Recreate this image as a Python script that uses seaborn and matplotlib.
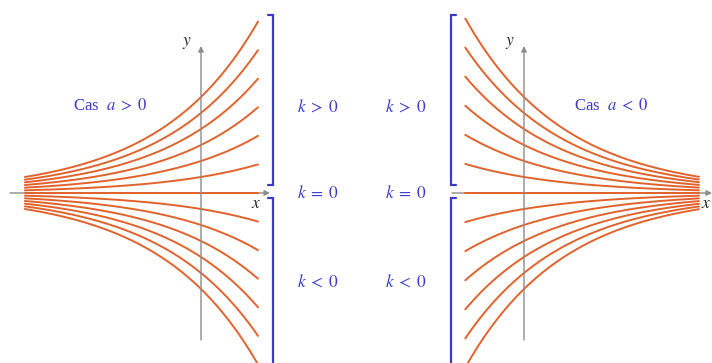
import numpy as np
import pandas as pd
import matplotlib
matplotlib.use("Agg")
import matplotlib.pyplot as plt
import seaborn as sns
from matplotlib.lines import Line2D

# Family of curves y = k * exp(a * x)
k_values = [-6, -5, -4, -3, -2, -1, 0, 1, 2, 3, 4, 5, 6]
panels = ["left", "right"]
rates = {"left": 0.58, "right": -0.58}
x_spans = {"left": (-3.09, 1.0), "right": (-1.03, 3.07)}
panel_titles = {"left": r"Cas  $a \;>\; 0$", "right": r"Cas  $a \;<\; 0$"}
k_labels = [r"$k \;>\; 0$", r"$k \;=\; 0$", r"$k \;<\; 0$"]

ORANGE = "#E2622C"
BLUE = "#3B3BCB"
GRAY = "#8C8C8C"

W, H = 712, 363
XS, YS = 57.0, 16.0          # pixels per data unit
ORIGIN_Y = 193               # pixel row of the x axis
ORIGIN_X = {"left": 201, "right": 524}
AX_BOX = {"left": (0, 356), "right": (356, 712)}


def fx(px):
    return px / W


def fy(py):
    return 1 - py / H


rows = []
for p in panels:
    xs = np.linspace(*x_spans[p], 300)
    for k in k_values:
        for xv in xs:
            rows.append({"panel": p, "k": k, "x": xv, "y": k * np.exp(rates[p] * xv)})
curves = pd.DataFrame(rows)

sns.set_style("white")
plt.rcParams["font.family"] = ["Liberation Serif", "DejaVu Serif"]
plt.rcParams["mathtext.fontset"] = "stix"

fig = plt.figure(figsize=(W / 100, H / 100), dpi=100)

for p in panels:
    x0, x1 = AX_BOX[p]
    ox = ORIGIN_X[p]
    ax = fig.add_axes([fx(x0), 0, (x1 - x0) / W, 1])
    ax.set_xlim((x0 - ox) / XS, (x1 - ox) / XS)
    ax.set_ylim((ORIGIN_Y - H) / YS, ORIGIN_Y / YS)
    ax.set_axis_off()

    # x axis (under curves)
    xa0 = {"left": 10, "right": 452}[p]
    xa1 = {"left": 270, "right": 712}[p]
    ax.annotate("", xy=((xa1 - ox) / XS, 0), xytext=((xa0 - ox) / XS, 0),
                arrowprops=dict(arrowstyle="-|>", color=GRAY, lw=1.0,
                                mutation_scale=8, shrinkA=0, shrinkB=0),
                zorder=1)

    sub = curves[curves["panel"] == p]
    sns.lineplot(data=sub, x="x", y="y", units="k", estimator=None, sort=False,
                 color=ORANGE, lw=1.4, ax=ax, zorder=2, legend=False)

    # y axis (over curves)
    ax.annotate("", xy=(0, (ORIGIN_Y - 46) / YS), xytext=(0, (ORIGIN_Y - 340) / YS),
                arrowprops=dict(arrowstyle="-|>", color=GRAY, lw=1.0,
                                mutation_scale=8, shrinkA=0, shrinkB=0),
                zorder=3)
    ax.set_xlabel("")
    ax.set_ylabel("")

# axis names
fig.text(fx(187), fy(43), "$y$", fontsize=12.5, ha="center", va="center")
fig.text(fx(510), fy(43), "$y$", fontsize=12.5, ha="center", va="center")
fig.text(fx(256), fy(204), "$x$", fontsize=12.5, ha="center", va="center")
fig.text(fx(706), fy(204), "$x$", fontsize=12.5, ha="center", va="center")

# panel titles
fig.text(fx(110), fy(106), panel_titles["left"], fontsize=12, color=BLUE,
         ha="center", va="center")
fig.text(fx(611), fy(106), panel_titles["right"], fontsize=12, color=BLUE,
         ha="center", va="center")

# k labels
for lab, py in zip(k_labels, [107, 193, 282]):
    fig.text(fx(318), fy(py), lab, fontsize=12.5, color=BLUE, ha="center", va="center")
    fig.text(fx(406), fy(py), lab, fontsize=12.5, color=BLUE, ha="center", va="center")

# brackets
def bracket(pts):
    xs = [fx(a) for a, _ in pts]
    ys = [fy(b) for _, b in pts]
    fig.add_artist(Line2D(xs, ys, transform=fig.transFigure, color=BLUE, lw=1.6,
                          solid_joinstyle="miter"))

bracket([(268, 15), (273, 15), (273, 185), (268, 185)])
bracket([(268, 198), (273, 198), (273, 375)])
bracket([(456, 15), (451, 15), (451, 185), (456, 185)])
bracket([(456, 198), (451, 198), (451, 375)])

fig.savefig("out.png", dpi=100)
